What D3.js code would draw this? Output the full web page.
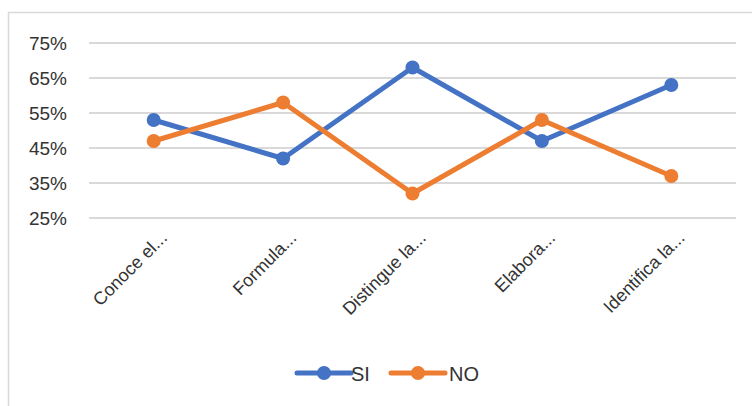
<!DOCTYPE html>
<html>
<head>
<meta charset="utf-8">
<script src="https://cdn.jsdelivr.net/npm/d3@7"></script>
<style>
  html, body { margin: 0; padding: 0; background: #fff; }
  svg text { font-family: "Liberation Sans", Arial, sans-serif; fill: #333; }
</style>
</head>
<body>
<svg id="chart" width="752" height="406"></svg>
<script>
// Category labels (truncated as shown on the axis)
const categories = ["Conoce el...", "Formula...", "Distingue la...", "Elabora...", "Identifica la..."];
const siValues = [0.53, 0.42, 0.68, 0.47, 0.63];
const noValues = [0.47, 0.58, 0.32, 0.53, 0.37];
const yTicks = [0.25, 0.35, 0.45, 0.55, 0.65, 0.75];
const seriesNames = ["SI", "NO"];
const seriesColors = ["#4472C4", "#ED7D31"];

const svg = d3.select("#chart");

// chart frame
svg.append("rect")
  .attr("x", 8.5).attr("y", 12.5)
  .attr("width", 760).attr("height", 420)
  .attr("fill", "none").attr("stroke", "#d9d9d9").attr("stroke-width", 1.5);

const plot = { left: 89, right: 736, top: 43, bottom: 218 };

const x = d3.scalePoint().domain(categories)
  .range([plot.left, plot.right]).padding(0.5);
const y = d3.scaleLinear().domain([0.25, 0.75])
  .range([plot.bottom, plot.top]);

// horizontal gridlines
svg.append("g").selectAll("line").data(yTicks).join("line")
  .attr("x1", plot.left).attr("x2", plot.right)
  .attr("y1", d => y(d)).attr("y2", d => y(d))
  .attr("stroke", "#d9d9d9").attr("stroke-width", 2);

// y axis labels
const yAxis = d3.axisLeft(y).tickValues(yTicks).tickFormat(d3.format(".0%")).tickSize(0).tickPadding(0);
const gy = svg.append("g").attr("transform", `translate(${67},0)`).call(yAxis);
gy.select(".domain").remove();
gy.selectAll("text").attr("font-size", 19).attr("fill", "#333")
  .style("font-family", "'Liberation Sans', Arial, sans-serif");

// x axis labels, rotated
const xAxis = d3.axisBottom(x).tickSize(0).tickPadding(0);
const gx = svg.append("g").attr("transform", `translate(0,${plot.bottom})`).call(xAxis);
gx.select(".domain").remove();
gx.selectAll("text")
  .attr("font-size", 18).attr("fill", "#333")
  .style("font-family", "'Liberation Sans', Arial, sans-serif")
  .attr("text-anchor", "end")
  .attr("dy", 0)
  .attr("transform", "translate(14,21) rotate(-45)");

const series = [siValues, noValues];
const line = d3.line().x((d, i) => x(categories[i])).y(d => y(d));

series.forEach((vals, s) => {
  const g = svg.append("g");
  g.append("path").datum(vals)
    .attr("d", line).attr("fill", "none")
    .attr("stroke", seriesColors[s]).attr("stroke-width", 5)
    .attr("stroke-linejoin", "round").attr("stroke-linecap", "round");
  g.selectAll("circle").data(vals).join("circle")
    .attr("cx", (d, i) => x(categories[i])).attr("cy", d => y(d))
    .attr("r", 7).attr("fill", seriesColors[s]);
});

// legend
const legendY = 373;
const legendItems = [{ x0: 297, tx: 351 }, { x0: 391, tx: 449 }];
seriesNames.forEach((name, s) => {
  const it = legendItems[s];
  svg.append("line")
    .attr("x1", it.x0).attr("x2", it.x0 + 54)
    .attr("y1", legendY).attr("y2", legendY)
    .attr("stroke", seriesColors[s]).attr("stroke-width", 5).attr("stroke-linecap", "round");
  svg.append("circle").attr("cx", it.x0 + 27).attr("cy", legendY).attr("r", 7).attr("fill", seriesColors[s]);
  svg.append("text").attr("x", it.tx).attr("y", legendY + 7.5)
    .attr("font-size", 20).text(name);
});
</script>
</body>
</html>
